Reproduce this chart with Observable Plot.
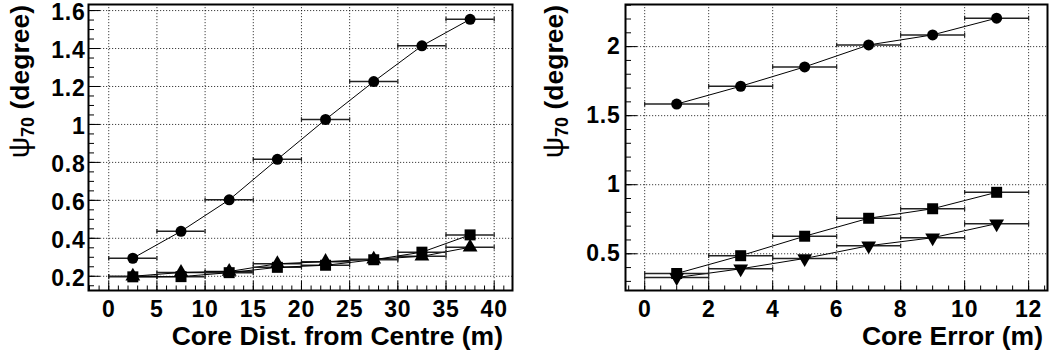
<!DOCTYPE html>
<html><head><meta charset="utf-8">
<script src="https://cdn.jsdelivr.net/npm/d3@7"></script>
<script src="https://cdn.jsdelivr.net/npm/@observablehq/plot@0.6"></script>
<style>
body{margin:0;background:#fff;}
#row{display:flex;width:1049px;height:358px;overflow:hidden;}
svg{display:block}
</style></head><body><div id="row"></div>
<script>
// ---- Left panel data: psi70 vs core distance from centre ----
const distX = [2.5, 7.5, 12.5, 17.5, 22.5, 27.5, 32.5, 37.5];
const distBinWidth = 5;
const distCircle   = [0.295, 0.437, 0.603, 0.816, 1.026, 1.226, 1.414, 1.554];
const distSquare   = [0.197, 0.198, 0.219, 0.247, 0.258, 0.287, 0.327, 0.418];
const distTriangle = [0.200, 0.220, 0.225, 0.266, 0.277, 0.290, 0.305, 0.353];
const distXTicks = [0, 5, 10, 15, 20, 25, 30, 35, 40];
const distYTicks = [0.2, 0.4, 0.6, 0.8, 1, 1.2, 1.4, 1.6];

// ---- Right panel data: psi70 vs core error ----
const errX = [1, 3, 5, 7, 9, 11];
const errBinWidth = 2;
const errCircle       = [1.584, 1.713, 1.853, 2.012, 2.085, 2.206];
const errSquare       = [0.357, 0.486, 0.627, 0.757, 0.826, 0.945];
const errTriangleDown = [0.328, 0.391, 0.466, 0.558, 0.616, 0.718];
const errXTicks = [0, 2, 4, 6, 8, 10, 12];
const errYTicks = [0.5, 1, 1.5, 2];

const xTitleLeft = "Core Dist. from Centre (m)";
const xTitleRight = "Core Error (m)";

const FONT = "'Liberation Sans', Arial, Helvetica, sans-serif";

const triangleDown = {
  draw(ctx, size) {
    const s3 = Math.sqrt(3);
    const y = -Math.sqrt(size / (s3 * 3));
    ctx.moveTo(0, -y * 2);
    ctx.lineTo(-s3 * y, y);
    ctx.lineTo(s3 * y, y);
    ctx.closePath();
  }
};
const capSymbol = {
  draw(ctx, size) {
    const h = Math.sqrt(size);
    ctx.moveTo(0, -h / 2);
    ctx.lineTo(0, h / 2);
  }
};

function rows(xs, ys, bw) {
  return xs.map((x, i) => ({x, y: ys[i], lo: x - bw / 2, hi: x + bw / 2}));
}

function panel(o) {
  const height = 358, marginTop = 4, marginBottom = 68;
  const fw = o.width - o.marginLeft - o.marginRight;
  const fh = height - marginTop - marginBottom;
  const lbl = {fontSize: 23, fontWeight: "bold", fontFamily: FONT, fill: "#000", text: d => String(d)};
  const marks = [
    Plot.gridX(o.xMajor, {stroke: "#000", strokeOpacity: 0.75, strokeDasharray: "1.2,1.8", strokeWidth: 1}),
    Plot.gridY(o.yMajor, {stroke: "#000", strokeOpacity: 0.75, strokeDasharray: "1.2,1.8", strokeWidth: 1}),
    // inward ticks, ROOT style
    Plot.tickY(o.yMinor, {y: d => d, insetRight: fw - 6, stroke: "#000", strokeWidth: 1}),
    Plot.tickY(o.yMajor, {y: d => d, insetRight: fw - 12, stroke: "#000", strokeWidth: 1}),
    Plot.tickX(o.xMinor, {x: d => d, insetTop: fh - 4.5, stroke: "#000", strokeWidth: 1}),
    Plot.tickX(o.xMajor, {x: d => d, insetTop: fh - 9, stroke: "#000", strokeWidth: 1}),
    // tick labels
    Plot.text(o.yMajor, {...lbl, y: d => d, frameAnchor: "left", textAnchor: "end", dx: -o.yPad, dy: o.yDy}),
    Plot.text(o.xMajor, {...lbl, x: d => d, frameAnchor: "bottom", lineAnchor: "top", dy: 10}),
  ];
  for (const s of o.series) {
    const data = rows(o.xs, s.ys, o.bw);
    marks.push(
      Plot.ruleY(data, {y: "y", x1: "lo", x2: "hi", stroke: "#222", strokeWidth: 1.5}),
      Plot.dot(data, {x: "lo", y: "y", symbol: capSymbol, r: 2.6, stroke: "#222", strokeWidth: 1.2, fill: "none"}),
      Plot.dot(data, {x: "hi", y: "y", symbol: capSymbol, r: 2.6, stroke: "#222", strokeWidth: 1.2, fill: "none"}),
      Plot.line(data, {x: "x", y: "y", stroke: "#000", strokeWidth: 1})
    );
  }
  for (const s of o.series) {
    const data = rows(o.xs, s.ys, o.bw);
    marks.push(Plot.dot(data, {x: "x", y: "y", symbol: s.symbol, r: s.r, fill: "#000", stroke: "none"}));
  }
  marks.push(Plot.frame({stroke: "#000", strokeWidth: 2}));
  const svg = Plot.plot({
    width: o.width, height, marginLeft: o.marginLeft, marginRight: o.marginRight, marginTop, marginBottom,
    x: {domain: o.xDomain, axis: null},
    y: {domain: o.yDomain, axis: null},
    style: {fontFamily: FONT, color: "#000", background: "#fff", overflow: "visible"},
    marks
  });
  const s = d3.select(svg);
  s.selectAll('g[aria-label="text"] text').style("letter-spacing", "0.8px");
  // x title
  s.append("text")
    .attr("x", o.width - o.marginRight - o.xTitleInset)
    .attr("y", 345)
    .attr("text-anchor", "end")
    .attr("font-family", FONT).attr("font-weight", "bold").attr("font-size", 26.5)
    .attr("fill", "#000")
    .text(o.xTitle);
  // y title: psi_70 (degree)
  const t = s.append("text")
    .attr("transform", `translate(${o.yTitleX},5) rotate(-90)`)
    .attr("text-anchor", "end")
    .attr("font-family", FONT).attr("font-size", 26.5).attr("fill", "#000");
  t.append("tspan").attr("font-weight", "normal").attr("font-size", 30).text("ψ");
  t.append("tspan").attr("font-weight", "bold").attr("font-size", 18).attr("dy", 5).text("70");
  t.append("tspan").attr("font-weight", "bold").attr("dy", -5).text(" (degree)");
  return svg;
}

const row = document.getElementById("row");
row.appendChild(panel({
  width: 524, marginLeft: 88, marginRight: 12,
  xDomain: [-2.1, 41.9], yDomain: [0.125, 1.632],
  xMajor: distXTicks, xMinor: d3.range(-2, 42, 1),
  yMajor: distYTicks, yMinor: d3.range(0.15, 1.63, 0.05),
  yPad: 3, yDy: 2.5,
  xs: distX, bw: distBinWidth,
  series: [
    {ys: distCircle, symbol: "circle", r: 5.5},
    {ys: distTriangle, symbol: "triangle", r: 5.5},
    {ys: distSquare, symbol: "square", r: 6.2},
  ],
  xTitle: xTitleLeft, xTitleInset: 9, yTitleX: 29
}));
row.appendChild(panel({
  width: 525, marginLeft: 101, marginRight: 2,
  xDomain: [-0.6, 12.59], yDomain: [0.234, 2.305],
  xMajor: errXTicks, xMinor: d3.range(-0.5, 12.6, 0.5),
  yMajor: errYTicks, yMinor: d3.range(0.3, 2.31, 0.1),
  yPad: 5, yDy: 0,
  xs: errX, bw: errBinWidth,
  series: [
    {ys: errCircle, symbol: "circle", r: 5.5},
    {ys: errTriangleDown, symbol: triangleDown, r: 5.5},
    {ys: errSquare, symbol: "square", r: 6.2},
  ],
  xTitle: xTitleRight, xTitleInset: 4, yTitleX: 39
}));
</script>
</body></html>
